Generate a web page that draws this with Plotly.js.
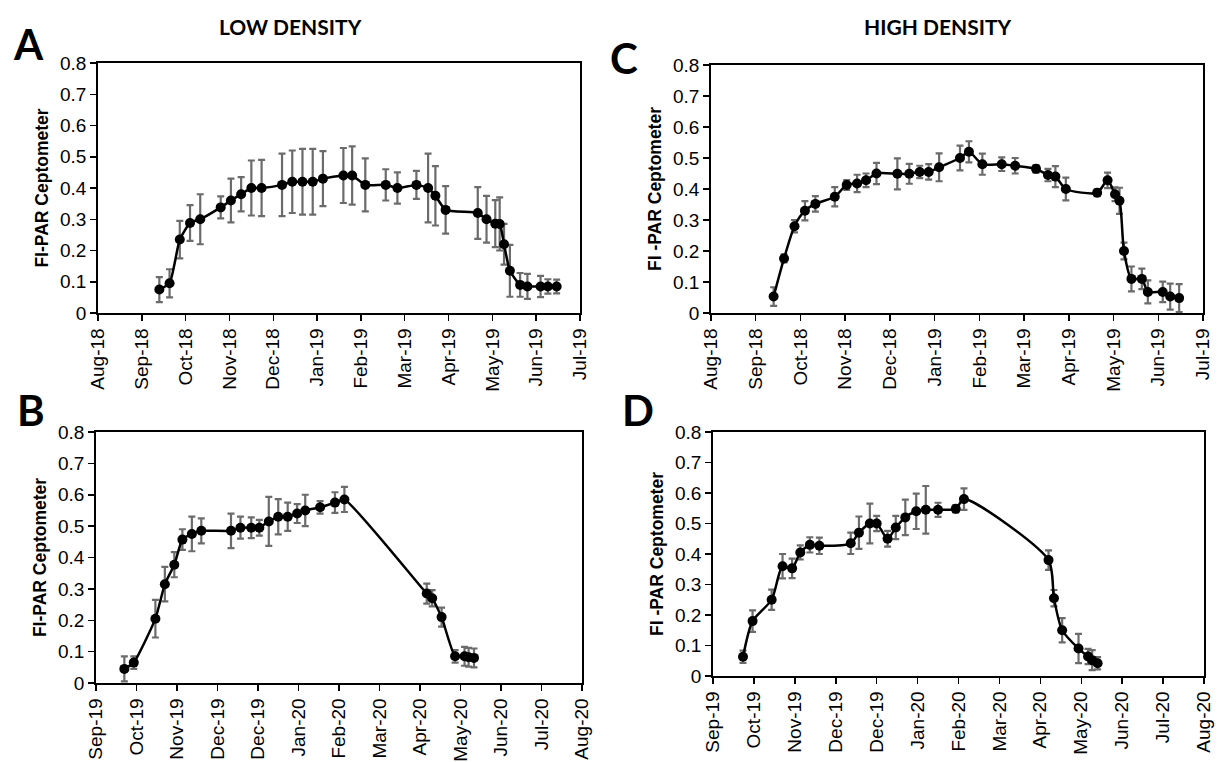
<!DOCTYPE html>
<html><head><meta charset="utf-8">
<script src="https://cdn.plot.ly/plotly-3.0.1.min.js"></script>
<style>html,body{margin:0;padding:0;background:#fff}#chart{width:1219px;height:762px}</style>
</head><body><div id="chart"></div>
<script>
// ---- Panel A: low density, 2018-19 ----
const datesA = ["2018-09-26","2018-10-03","2018-10-10","2018-10-17","2018-10-24","2018-11-07","2018-11-14","2018-11-21","2018-11-28","2018-12-05","2018-12-19","2018-12-26","2019-01-02","2019-01-09","2019-01-16","2019-01-30","2019-02-05","2019-02-14","2019-02-28","2019-03-08","2019-03-21","2019-03-29","2019-04-03","2019-04-10","2019-05-02","2019-05-08","2019-05-14","2019-05-17","2019-05-20","2019-05-24","2019-05-31","2019-06-05","2019-06-14","2019-06-19","2019-06-25"];
const fiparA = [0.075,0.095,0.235,0.288,0.30,0.338,0.36,0.38,0.40,0.40,0.41,0.42,0.42,0.42,0.43,0.44,0.44,0.41,0.41,0.40,0.41,0.40,0.375,0.33,0.32,0.30,0.286,0.285,0.22,0.135,0.09,0.085,0.085,0.085,0.085];
const errA = [0.04,0.045,0.06,0.057,0.08,0.035,0.07,0.055,0.088,0.09,0.10,0.10,0.105,0.105,0.088,0.088,0.093,0.085,0.05,0.05,0.045,0.11,0.095,0.076,0.083,0.075,0.075,0.085,0.065,0.083,0.038,0.04,0.034,0.023,0.022];

// ---- Panel C: high density, 2018-19 ----
const datesC = ["2018-09-26","2018-10-03","2018-10-10","2018-10-17","2018-10-24","2018-11-06","2018-11-14","2018-11-21","2018-11-27","2018-12-04","2018-12-18","2018-12-26","2019-01-02","2019-01-08","2019-01-15","2019-01-29","2019-02-04","2019-02-13","2019-02-26","2019-03-07","2019-03-21","2019-03-29","2019-04-03","2019-04-10","2019-05-01","2019-05-08","2019-05-13","2019-05-16","2019-05-19","2019-05-24","2019-05-31","2019-06-04","2019-06-14","2019-06-19","2019-06-25"];
const fiparC = [0.053,0.176,0.28,0.33,0.352,0.375,0.413,0.418,0.428,0.45,0.449,0.449,0.455,0.455,0.47,0.50,0.52,0.48,0.48,0.475,0.465,0.445,0.44,0.40,0.388,0.428,0.383,0.362,0.20,0.11,0.11,0.068,0.068,0.053,0.048];
const errC = [0.03,0.013,0.02,0.031,0.025,0.031,0.016,0.028,0.022,0.034,0.05,0.032,0.02,0.025,0.045,0.04,0.034,0.034,0.022,0.025,0.012,0.02,0.034,0.037,0.011,0.025,0.022,0.042,0.027,0.04,0.033,0.037,0.033,0.042,0.045];

// ---- Panel B: low density, 2019-20 ----
const datesB = ["2019-09-23","2019-09-30","2019-10-16","2019-10-23","2019-10-30","2019-11-05","2019-11-12","2019-11-19","2019-12-11","2019-12-18","2019-12-26","2020-01-01","2020-01-08","2020-01-15","2020-01-22","2020-01-29","2020-02-04","2020-02-15","2020-02-26","2020-03-04","2020-05-04","2020-05-08","2020-05-15","2020-05-25","2020-06-01","2020-06-04","2020-06-08"];
const fiparB = [0.045,0.065,0.205,0.315,0.377,0.457,0.475,0.485,0.485,0.495,0.495,0.495,0.515,0.53,0.53,0.54,0.55,0.56,0.575,0.585,0.285,0.27,0.21,0.085,0.085,0.082,0.08];
const errB = [0.04,0.02,0.06,0.055,0.04,0.033,0.055,0.04,0.055,0.035,0.033,0.025,0.078,0.056,0.045,0.03,0.05,0.02,0.033,0.04,0.032,0.026,0.03,0.02,0.03,0.03,0.03];

// ---- Panel D: high density, 2019-20 ----
const datesD = ["2019-09-24","2019-10-01","2019-10-15","2019-10-23","2019-10-30","2019-11-05","2019-11-12","2019-11-19","2019-12-12","2019-12-18","2019-12-26","2019-12-31","2020-01-08","2020-01-14","2020-01-21","2020-01-29","2020-02-05","2020-02-14","2020-02-27","2020-03-04","2020-05-05","2020-05-09","2020-05-15","2020-05-27","2020-06-03","2020-06-06","2020-06-10"];
const fiparD = [0.063,0.18,0.25,0.36,0.353,0.405,0.43,0.427,0.435,0.47,0.50,0.50,0.45,0.487,0.52,0.54,0.545,0.545,0.548,0.58,0.38,0.255,0.15,0.09,0.064,0.052,0.042];
const errD = [0.02,0.035,0.033,0.04,0.032,0.023,0.025,0.027,0.035,0.053,0.065,0.025,0.026,0.038,0.058,0.058,0.078,0.023,0.012,0.035,0.032,0.027,0.04,0.048,0.025,0.033,0.02];

// axis settings (Excel-like date axis: 30-day major unit)
const rangeAC = ["2018-08-15","2019-07-11"];
const rangeBD = ["2019-09-02","2020-08-27"];
const yTitleLow = "FI-PAR Ceptometer";
const yTitleHigh = "FI -PAR Ceptometer";
const headers = ["LOW DENSITY","HIGH DENSITY"];
const panelLetters = ["A","B","C","D"];

const DAY = 86400000;
const W = 1219, H = 762;
const px = (x) => x / W;
const py = (y) => 1 - y / H;

function trace(x, y, e, xa, ya, smooth) {
  return {
    x: x, y: y, xaxis: xa, yaxis: ya, type: 'scatter', mode: 'lines+markers',
    line: {color: '#000', width: 2.5, shape: 'spline', smoothing: smooth},
    marker: {color: '#000', size: 10},
    error_y: {type: 'data', array: e, visible: true, color: '#6b6b6b', thickness: 2.2, width: 3.5},
    showlegend: false, hoverinfo: 'x+y'
  };
}

const data = [
  trace(datesA, fiparA, errA, 'x', 'y', 0.5),
  trace(datesB, fiparB, errB, 'x2', 'y2', 0.5),
  trace(datesC, fiparC, errC, 'x3', 'y3', 0.7),
  trace(datesD, fiparD, errD, 'x4', 'y4', 0.7)
];

const tickFont = {family: 'Liberation Sans, Arial, sans-serif', size: 19, color: '#000'};
function xaxis(range, dom, anchor) {
  return {
    type: 'date', range: range, domain: dom, anchor: anchor,
    tick0: range[0], dtick: 30 * DAY, tickformat: '%b-%y', tickangle: -90,
    ticks: 'outside', ticklen: 6, tickwidth: 1.5, tickcolor: '#000',
    showline: true, linecolor: '#000', linewidth: 1.8, mirror: true,
    showgrid: false, zeroline: false, tickfont: tickFont
  };
}
function yaxis(dom, anchor, title) {
  return {
    range: [0, 0.8], dtick: 0.1, tick0: 0, domain: dom, anchor: anchor,
    ticks: 'outside', ticklen: 6, tickwidth: 1.5, tickcolor: '#000',
    showline: true, linecolor: '#000', linewidth: 1.8, mirror: true,
    showgrid: false, zeroline: false, tickfont: tickFont,
    title: {text: title, font: {family: 'Liberation Sans, Arial, sans-serif', size: 17.5, color: '#000', weight: 'bold'}, standoff: 7}
  };
}

const domA = {x: [px(98), px(580)], y: [py(313), py(63)]};
const domB = {x: [px(96), px(582)], y: [py(683), py(432)]};
const domC = {x: [px(711), px(1203)], y: [py(313), py(65)]};
const domD = {x: [px(713), px(1204)], y: [py(676), py(432)]};

const hdrFont = {family: 'Lato, Open Sans, sans-serif', size: 21, color: '#000', weight: 'bold'};
const letFont = {family: 'Lato, Open Sans, sans-serif', size: 42, color: '#000', weight: 'bold'};
function ann(text, x, y, font) {
  return {text: text, x: px(x), y: py(y), xref: 'paper', yref: 'paper', xanchor: 'center', yanchor: 'middle', showarrow: false, font: font};
}

const layout = {
  width: W, height: H, paper_bgcolor: '#fff', plot_bgcolor: '#fff',
  margin: {l: 0, r: 0, t: 0, b: 0},
  xaxis: xaxis(rangeAC, domA.x, 'y'),
  yaxis: yaxis(domA.y, 'x', yTitleLow),
  xaxis2: xaxis(rangeBD, domB.x, 'y2'),
  yaxis2: yaxis(domB.y, 'x2', yTitleLow),
  xaxis3: xaxis(rangeAC, domC.x, 'y3'),
  yaxis3: yaxis(domC.y, 'x3', yTitleHigh),
  xaxis4: xaxis(rangeBD, domD.x, 'y4'),
  yaxis4: yaxis(domD.y, 'x4', yTitleHigh),
  annotations: [
    ann(headers[0], 290, 26, hdrFont),
    ann(headers[1], 938, 26, hdrFont),
    ann(panelLetters[0], 29, 44, letFont),
    ann(panelLetters[1], 31, 410, letFont),
    ann(panelLetters[2], 624, 58, letFont),
    ann(panelLetters[3], 638, 410, letFont)
  ]
};

Plotly.newPlot('chart', data, layout, {displayModeBar: false, staticPlot: true});
</script>
</body></html>
